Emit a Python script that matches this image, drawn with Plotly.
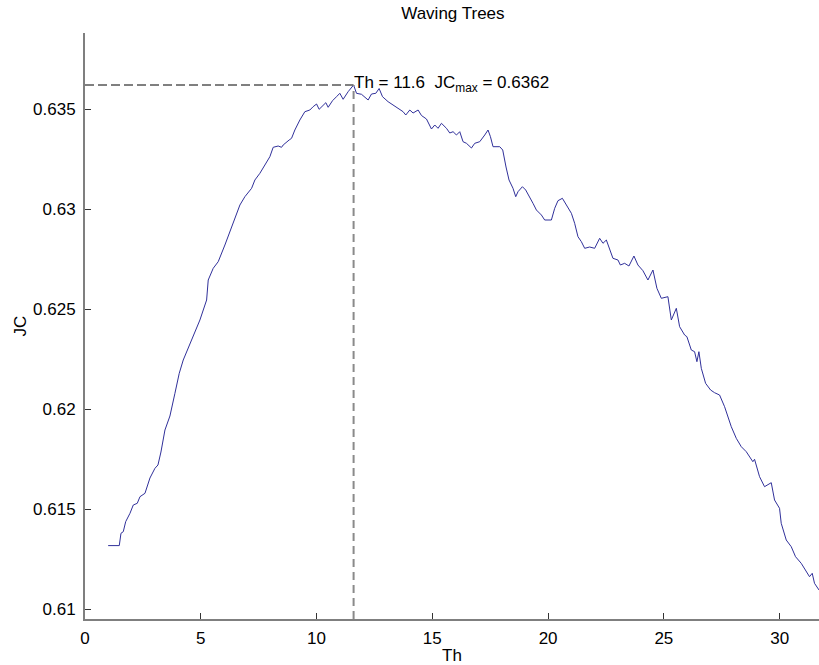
import plotly.graph_objects as go

# Data
th = [1.0, 1.48, 1.554, 1.653, 1.757, 1.942, 2.085, 2.257, 2.374, 2.59, 2.805, 3.021, 3.151, 3.28,
      3.453, 3.668, 3.884, 4.07, 4.243, 4.532, 4.963, 5.252, 5.322, 5.537, 5.753, 6.042, 6.258,
      6.474, 6.69, 6.905, 7.195, 7.337, 7.553, 7.769, 7.984, 8.127, 8.343, 8.489, 8.558, 8.817,
      8.921, 9.063, 9.279, 9.495, 9.711, 9.853, 10.0, 10.112, 10.216, 10.401, 10.501, 10.69,
      10.863, 11.006, 11.148, 11.364, 11.6, 11.726, 11.942, 12.085, 12.227, 12.374, 12.559,
      12.702, 12.849, 13.09, 13.453, 13.738, 13.854, 14.027, 14.169, 14.385, 14.532, 14.747,
      14.963, 15.106, 15.248, 15.395, 15.611, 15.753, 15.896, 16.042, 16.185, 16.327, 16.474,
      16.69, 16.832, 17.048, 17.264, 17.406, 17.51, 17.622, 17.911, 18.041, 18.183, 18.313,
      18.485, 18.602, 18.701, 18.891, 19.033, 19.206, 19.348, 19.495, 19.711, 19.853, 20.142,
      20.285, 20.427, 20.617, 20.79, 21.006, 21.148, 21.29, 21.437, 21.58, 21.796, 22.011,
      22.227, 22.37, 22.516, 22.659, 22.801, 23.017, 23.121, 23.306, 23.492, 23.707, 23.88,
      24.096, 24.312, 24.528, 24.7, 24.89, 25.175, 25.322, 25.538, 25.68, 25.896, 25.995,
      26.185, 26.327, 26.427, 26.513, 26.617, 26.802, 27.018, 27.19, 27.406, 27.622, 27.911,
      28.127, 28.343, 28.558, 28.843, 28.917, 29.133, 29.348, 29.638, 29.78, 29.996, 30.069,
      30.285, 30.501, 30.686, 30.932, 31.29, 31.407, 31.506, 31.7]
jc = [0.61317, 0.61317, 0.613785, 0.613865, 0.614365, 0.614785, 0.6152, 0.615285, 0.615615,
      0.615785, 0.61655, 0.617035, 0.6172, 0.61785, 0.61895, 0.61965, 0.620785, 0.621785,
      0.62245, 0.623285, 0.62445, 0.62545, 0.62645, 0.627035, 0.627365, 0.6282, 0.628865,
      0.629615, 0.6302, 0.630615, 0.631035, 0.63145, 0.631785, 0.6322, 0.632615, 0.633085,
      0.63315, 0.633085, 0.6332, 0.63345, 0.633535, 0.63395, 0.63445, 0.634865, 0.63495,
      0.635115, 0.63525, 0.634985, 0.635115, 0.635315, 0.635085, 0.635415, 0.635615, 0.635785,
      0.635485, 0.635865, 0.6362, 0.635785, 0.635735, 0.635615, 0.63545, 0.63575, 0.635785,
      0.636025, 0.635615, 0.635365, 0.6351, 0.634865, 0.6347, 0.63495, 0.6348, 0.63495,
      0.634675, 0.6345, 0.634, 0.6342, 0.634035, 0.634285, 0.634035, 0.6338, 0.633865, 0.6337,
      0.633865, 0.633365, 0.633285, 0.63305, 0.633285, 0.633365, 0.6337, 0.63395, 0.633615,
      0.633115, 0.633115, 0.63295, 0.6321, 0.63145, 0.631035, 0.630615, 0.630865, 0.631115,
      0.63095, 0.630615, 0.630285, 0.62995, 0.6297, 0.62945, 0.62945, 0.630035, 0.630415,
      0.630535, 0.6302, 0.629785, 0.629285, 0.628615, 0.628365, 0.628035, 0.6281, 0.628035,
      0.628535, 0.628285, 0.62845, 0.628035, 0.627535, 0.62745, 0.6272, 0.627285, 0.62715,
      0.62765, 0.6272, 0.626915, 0.62645, 0.62695, 0.626035, 0.625535, 0.625615, 0.62445,
      0.625035, 0.624115, 0.6237, 0.623615, 0.62295, 0.622865, 0.622365, 0.622865, 0.622035,
      0.621285, 0.62095, 0.620815, 0.6207, 0.620115, 0.619115, 0.618535, 0.618115, 0.617865,
      0.617365, 0.617485, 0.616615, 0.616115, 0.616315, 0.61545, 0.615035, 0.614285, 0.61345,
      0.613115, 0.612615, 0.612285, 0.611615, 0.611785, 0.611285, 0.61095]

th_best = 11.6
jc_max = 0.6362
x_range = [0, 31.7]
y_range = [0.6095, 0.6388]
x_ticks = [0, 5, 10, 15, 20, 25, 30]
y_ticks = [0.61, 0.615, 0.62, 0.625, 0.63, 0.635]
y_tick_text = ["0.61", "0.615", "0.62", "0.625", "0.63", "0.635"]

FONT = "Liberation Sans, Arial, sans-serif"

fig = go.Figure()
fig.add_trace(go.Scatter(x=th, y=jc, mode="lines",
                         line=dict(color="#30309a", width=1), showlegend=False,
                         hoverinfo="skip"))
# horizontal dashed line to the max
fig.add_trace(go.Scatter(x=[x_range[0], th_best], y=[jc_max, jc_max], mode="lines",
                         line=dict(color="#000000", width=1, dash="9px,4px"),
                         showlegend=False, hoverinfo="skip"))
# vertical dashed line at best threshold
fig.add_trace(go.Scatter(x=[th_best, th_best], y=[y_range[0], jc_max], mode="lines",
                         line=dict(color="#8a8a8a", width=2, dash="8px,5px"),
                         showlegend=False, hoverinfo="skip"))

fig.add_annotation(x=th_best, y=jc_max, xref="x", yref="y",
                   text="Th = 11.6  JC<sub>max</sub> = 0.6362",
                   showarrow=False, xanchor="left", yanchor="middle", xshift=-2, yshift=1,
                   font=dict(family=FONT, size=17, color="#000000"))

fig.update_layout(
    width=819, height=665,
    margin=dict(l=85, r=0, t=33, b=46),
    paper_bgcolor="white", plot_bgcolor="white",
    font=dict(family=FONT, size=17, color="#000000"),
    title=dict(text="Waving Trees", x=0.553, xanchor="center",
               y=1 - 13 / 665, yanchor="middle", yref="container",
               font=dict(family=FONT, size=17, color="#000000")),
    xaxis=dict(range=x_range, tickvals=x_ticks, ticktext=[str(v) for v in x_ticks],
               showgrid=False, zeroline=False, showline=True, linecolor="#7f7f7f",
               linewidth=2, ticks="inside", ticklen=6, tickcolor="#333333", tickwidth=1,
               ticklabelstandoff=3,
               title=dict(text="Th", standoff=2, font=dict(family=FONT, size=17))),
    yaxis=dict(range=y_range, tickvals=y_ticks, ticktext=y_tick_text,
               showgrid=False, zeroline=False, showline=True, linecolor="#7f7f7f",
               linewidth=2, ticks="inside", ticklen=6, tickcolor="#333333", tickwidth=1,
               ticklabelstandoff=4,
               title=dict(text="JC", standoff=2, font=dict(family=FONT, size=17))),
)

fig.write_html("out.html")
